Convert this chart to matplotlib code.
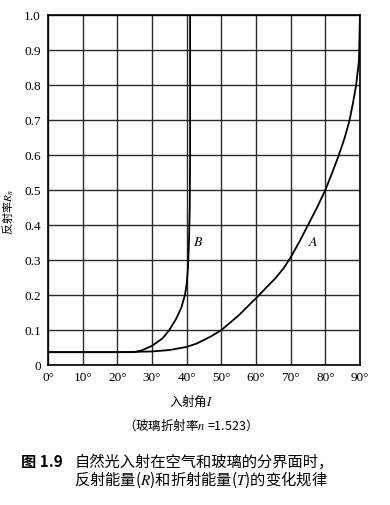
import matplotlib.pyplot as plt

plt.rcParams['font.family'] = ['Liberation Serif', 'Noto Sans CJK SC']
plt.rcParams['mathtext.fontset'] = 'stix'

# angle of incidence (deg) and reflectance
angle_a = [0, 10, 20, 30, 35, 40, 43, 45, 47, 50, 55, 60.9, 63, 65.5, 68, 70, 72.4, 75, 77.6, 80,
           82, 83.9, 85.6, 87, 88, 88.9, 89.7, 90]
refl_a = [0.037, 0.037, 0.037, 0.039, 0.043, 0.052, 0.062, 0.072, 0.082, 0.1, 0.142, 0.2, 0.222,
          0.247, 0.277, 0.308, 0.35, 0.4, 0.45, 0.5, 0.55, 0.6, 0.65, 0.7, 0.75, 0.8, 0.87, 1.0]

angle_b = [0, 10, 20, 25, 27, 30, 33, 35, 37, 38.5, 39.5, 40, 40.4, 40.7, 40.9, 41, 41]
refl_b = [0.037, 0.037, 0.037, 0.037, 0.042, 0.055, 0.076, 0.1, 0.133, 0.165, 0.2, 0.23, 0.28,
          0.36, 0.45, 0.6, 1.0]

xticks = [0, 10, 20, 30, 40, 50, 60, 70, 80, 90]
xlabels = [f'{v}°' for v in xticks]
yticks = [0, 0.1, 0.2, 0.3, 0.4, 0.5, 0.6, 0.7, 0.8, 0.9, 1.0]
ylabels = ['0', '0.1', '0.2', '0.3', '0.4', '0.5', '0.6', '0.7', '0.8', '0.9', '1.0']

cjk = ['Noto Sans CJK SC', 'DejaVu Sans']

fig = plt.figure(figsize=(3.9, 5.05), dpi=100)
ax = fig.add_axes([0.123, 0.277, 0.8, 0.693])

ax.plot(angle_a, refl_a, color='black', lw=1.3)
ax.plot(angle_b, refl_b, color='black', lw=1.3)

ax.set_xlim(0, 90)
ax.set_ylim(0, 1.0)
ax.set_xticks(xticks)
ax.set_xticklabels(xlabels)
ax.set_yticks(yticks)
ax.set_yticklabels(ylabels)
ax.tick_params(length=0, labelsize=9.5, pad=5)
ax.grid(True, color='#2a2a2a', lw=1.0)
for s in ax.spines.values():
    s.set_linewidth(1.2)
    s.set_color('black')

ax.text(43.3, 0.35, '$B$', fontsize=10, ha='center', va='center')
ax.text(76.5, 0.35, '$A$', fontsize=10, ha='center', va='center')

fig.text(0.018, 0.58, '反射率$R_n$', rotation=90, fontsize=8, ha='center', va='center', family=cjk)

fig.text(0.49, 1 - 401 / 505, '入射角$I$', fontsize=9, ha='center', va='center', family=cjk)
fig.text(0.48, 1 - 425 / 505, '（玻璃折射率$n$ =1.523）', fontsize=9, ha='center', va='center', family=cjk)

fig.text(0.054, 1 - 462 / 505, '图 1.9', fontsize=11, fontweight='bold', ha='left', va='center', family=cjk)
fig.text(0.19, 1 - 462 / 505, '自然光入射在空气和玻璃的分界面时，', fontsize=11, ha='left', va='center', family=cjk)
fig.text(0.19, 1 - 480 / 505, '反射能量($R$)和折射能量($T$)的变化规律', fontsize=11, ha='left', va='center', family=cjk)

fig.savefig('out.png', dpi=100)
